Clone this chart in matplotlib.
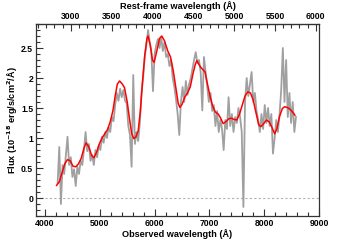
"""
Spectrum with smoothed fit, observed and rest-frame wavelength axes.
"""

import numpy as np
import matplotlib.pyplot as plt
from matplotlib.ticker import MultipleLocator, FixedLocator

# --- Data ---
ONE_PLUS_Z = 1.49
rest_ticks = [3000, 3500, 4000, 4500, 5000, 5500, 6000]

# observed spectrum (gray), 30 A sampling
spec_start, spec_step = 4230, 30
spec_flux = [
    0.25, 0.85, -0.10, 0.55, 0.40, 0.70, 1.02, 0.55, 0.68, 0.35,
    0.48, 0.20, 0.52, 0.40, 0.62, 0.55, 0.80, 1.10, 0.78, 0.90,
    0.62, 0.72, 0.55, 0.80, 0.68, 0.88, 0.80, 1.02, 0.92, 1.10,
    1.00, 1.18, 1.10, 1.35, 1.28, 1.55, 1.75, 1.62, 1.82, 1.68,
    1.80, 1.62, 1.58, 1.20, 1.05, 0.52, 2.05, 0.90, 1.10, 0.95,
    1.25, 1.75, 2.00, 2.35, 2.55, 2.80, 2.60, 2.45, 1.78, 2.40,
    2.55, 2.65, 2.50, 2.68, 2.45, 2.60, 2.35, 2.40, 2.20, 2.30,
    2.00, 1.85, 1.65, 1.40, 1.05, 1.60, 1.85, 1.60, 1.95, 1.72,
    1.90, 2.00, 2.15, 2.30, 2.43, 2.25, 2.30, 2.10, 1.46, 2.35,
    2.10, 1.85, 1.60, 1.75, 1.45, 1.55, 1.20, 1.45, 1.10, 1.30,
    1.15, 0.80, 1.30, 1.15, 1.68, 1.20, 1.40, 1.10, 1.35, 1.25,
    1.50, 1.35, 1.10, -0.15, 1.60, 2.00, 1.70, 1.90, 2.10, 1.60,
    1.75, 1.45, 1.30, 1.10, 1.40, 1.15, 1.55, 1.25, 1.50, 1.20,
    1.40, 0.74, 1.00, 1.30, 1.10, 1.40, 1.80, 2.50, 1.60, 2.30,
    1.35, 1.75, 1.25, 1.60, 1.10, 1.35,
]
spec_wave = spec_start + spec_step * np.arange(len(spec_flux))

# smoothed model (red)
fit_wave = [
    4210, 4260, 4310, 4360, 4410, 4460, 4510, 4560, 4610, 4660,
    4710, 4750, 4800, 4850, 4890, 4940, 4990, 5040, 5090, 5140,
    5190, 5240, 5280, 5320, 5360, 5410, 5450, 5500, 5540, 5580,
    5620, 5660, 5700, 5740, 5780, 5820, 5860, 5880, 5920, 5960,
    5990, 6040, 6090, 6130, 6180, 6240, 6290, 6340, 6390, 6430,
    6460, 6500, 6550, 6610, 6650, 6700, 6740, 6770, 6800, 6840,
    6880, 6920, 6960, 7010, 7060, 7110, 7160, 7200, 7250, 7300,
    7350, 7400, 7450, 7500, 7550, 7600, 7650, 7700, 7750, 7800,
    7850, 7900, 7940, 7990, 8040, 8090, 8140, 8190, 8230, 8280,
    8330, 8370, 8420, 8470, 8520, 8560,
]
fit_flux = [
    0.21, 0.27, 0.42, 0.57, 0.64, 0.62, 0.53, 0.52, 0.57, 0.66,
    0.83, 0.92, 0.85, 0.71, 0.67, 0.76, 0.90, 1.00, 1.07, 1.14,
    1.27, 1.46, 1.70, 1.90, 1.95, 1.90, 1.84, 1.60, 1.33, 1.08,
    0.99, 1.02, 1.12, 1.45, 1.95, 2.38, 2.66, 2.70, 2.55, 2.30,
    2.26, 2.45, 2.66, 2.70, 2.62, 2.45, 2.35, 2.12, 1.82, 1.58,
    1.51, 1.56, 1.68, 1.77, 1.85, 2.07, 2.22, 2.29, 2.24, 2.18,
    2.14, 2.10, 1.92, 1.70, 1.53, 1.43, 1.40, 1.34, 1.24, 1.27,
    1.32, 1.33, 1.31, 1.30, 1.40, 1.55, 1.70, 1.77, 1.75, 1.63,
    1.42, 1.22, 1.19, 1.24, 1.30, 1.27, 1.18, 1.07, 1.15, 1.36,
    1.49, 1.52, 1.51, 1.48, 1.43, 1.38,
]

# --- Plot ---
plt.rcParams['font.family'] = ['Liberation Sans', 'DejaVu Sans']
plt.rcParams['font.weight'] = 'bold'
plt.rcParams['font.size'] = 6.2

fig = plt.figure(figsize=(3.55, 2.40), dpi=100)
ax = fig.add_axes([0.1014, 0.10, 0.7972, 0.80])

ax.axhline(0, color='#b0b0b0', lw=0.8, ls=(0, (2, 2)), zorder=1)
ax.plot(spec_wave, spec_flux, color='#a0a0a0', lw=1.3, zorder=2)
ax.plot(fit_wave, fit_flux, color='red', lw=1.1, zorder=3)

ax.set_xlim(3835, 9000)
ax.set_ylim(-0.3, 2.9)
ax.xaxis.set_major_locator(MultipleLocator(1000))
ax.xaxis.set_minor_locator(MultipleLocator(200))
ax.yaxis.set_major_locator(MultipleLocator(0.5))
ax.yaxis.set_minor_locator(MultipleLocator(0.1))
ax.yaxis.set_major_formatter(plt.FuncFormatter(lambda v, p: f"{v:g}"))
ax.tick_params(which='both', direction='in', top=False, right=False,
               width=0.8, colors='#333333', labelcolor='black', pad=2)
ax.tick_params(which='major', length=5)
ax.tick_params(which='minor', length=3)
for s in ax.spines.values():
    s.set_linewidth(0.9)
    s.set_color('#333333')

ax.set_xlabel("Observed wavelength (Å)", fontweight='bold', fontsize=6.6, labelpad=1)
ax.set_ylabel("Flux (10$^{-18}$ erg/s/cm$^{2}$/Å)", fontweight='bold', fontsize=6.6)
ax.yaxis.set_label_coords(-0.058, 0.5)

top = ax.secondary_xaxis('top', functions=(lambda x: x / ONE_PLUS_Z,
                                           lambda x: x * ONE_PLUS_Z))
top.xaxis.set_major_locator(FixedLocator(rest_ticks))
top.xaxis.set_minor_locator(MultipleLocator(100))
top.tick_params(which='both', direction='in', width=0.8, colors='#333333',
                labelcolor='black', pad=2)
top.tick_params(which='major', length=5)
top.tick_params(which='minor', length=3)
top.set_xlabel("Rest-frame wavelength (Å)", fontweight='bold', fontsize=6.6, labelpad=2)

fig.savefig("out.png", dpi=100)
